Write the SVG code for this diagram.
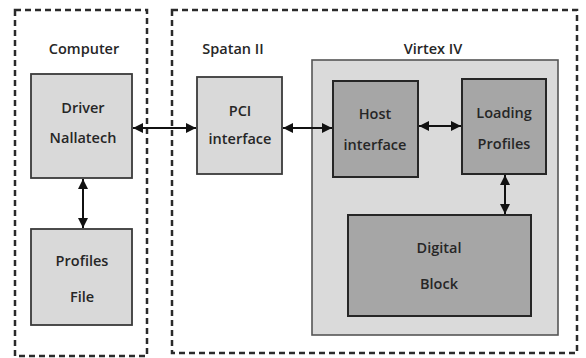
<svg xmlns="http://www.w3.org/2000/svg" width="586" height="358" viewBox="0 0 586 358">
<defs>
<marker id="ah" viewBox="0 0 10 10" refX="10" refY="5" markerWidth="5" markerHeight="5" markerUnits="strokeWidth" orient="auto-start-reverse">
<path d="M0,0 L10,5 L0,10 Z" fill="#111"/>
</marker>
<style>
.grp{fill:none;stroke:#2a2a2a;stroke-width:2.5;stroke-dasharray:6 4}
.lt{fill:#d9d9d9;stroke:#3a3a3a;stroke-width:1.8}
.dk{fill:#a6a6a6;stroke:#262626;stroke-width:2}
.vx{fill:#dadada;stroke:#555;stroke-width:1.6}
text{font-family:"Open Sans","Liberation Sans",sans-serif;font-weight:600;font-size:14.5px;fill:#262626;text-anchor:middle;dominant-baseline:central}
.cn{fill:none;stroke:#111;stroke-width:2;marker-start:url(#ah);marker-end:url(#ah)}
</style>
</defs>
<rect width="586" height="358" fill="#fff"/>
<g id="computer">
<rect class="grp" x="15" y="10" width="132" height="346"/>
<text x="84" y="48">Computer</text>
</g>
<g id="spatan">
<rect class="grp" x="172" y="10" width="405" height="343"/>
<text x="233" y="48">Spatan II</text>
</g>
<g id="virtex">
<rect class="vx" x="312" y="60" width="246" height="275"/>
<text x="433" y="48">Virtex IV</text>
</g>
<g id="driver">
<rect class="lt" x="31" y="74" width="101" height="104"/>
<text x="83" y="107">Driver</text>
<text x="83" y="137">Nallatech</text>
</g>
<g id="profiles-file">
<rect class="lt" x="31" y="229" width="101" height="96"/>
<text x="82" y="260">Profiles</text>
<text x="82" y="296">File</text>
</g>
<g id="pci">
<rect class="lt" x="197" y="77" width="85" height="97"/>
<text x="240" y="110">PCI</text>
<text x="240" y="138">interface</text>
</g>
<g id="host">
<rect class="dk" x="333" y="81" width="85" height="96"/>
<text x="375" y="113">Host</text>
<text x="375" y="144">interface</text>
</g>
<g id="loading">
<rect class="dk" x="462" y="79" width="84" height="95"/>
<text x="504" y="112">Loading</text>
<text x="504" y="143">Profiles</text>
</g>
<g id="digital">
<rect class="dk" x="348" y="215" width="183" height="101"/>
<text x="439" y="247">Digital</text>
<text x="439" y="283">Block</text>
</g>
<g id="connectors">
<line class="cn" x1="133" y1="128" x2="196" y2="128"/>
<line class="cn" x1="283" y1="128" x2="332" y2="128"/>
<line class="cn" x1="419" y1="126" x2="461" y2="126"/>
<line class="cn" x1="83" y1="179" x2="83" y2="228"/>
<line class="cn" x1="505" y1="175" x2="505" y2="214"/>
</g>
</svg>
